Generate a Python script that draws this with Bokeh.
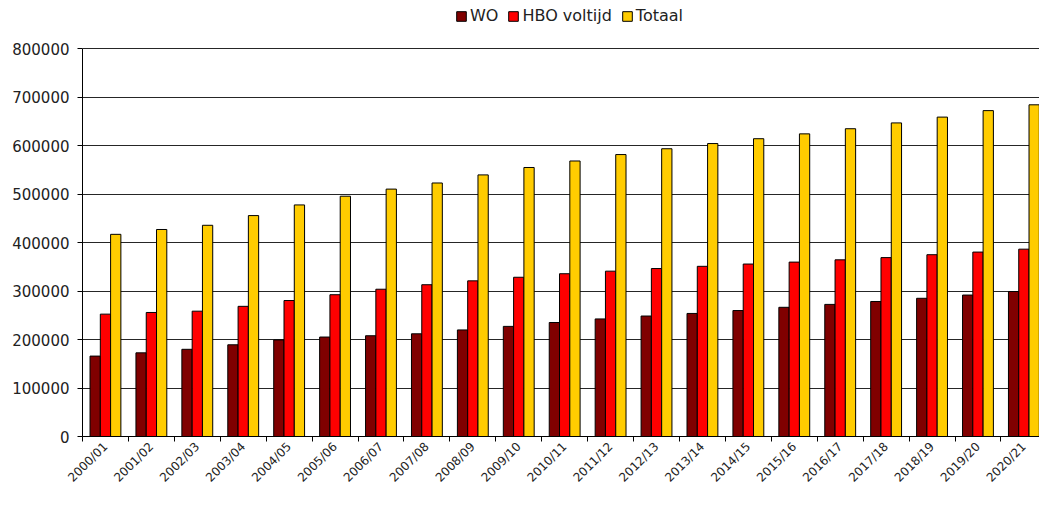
import math
from bokeh.plotting import figure
from bokeh.models import ColumnDataSource, Range1d, FixedTicker, Legend, LegendItem
from bokeh.transform import dodge
from bokeh.embed import file_html
from bokeh.resources import INLINE

categories = ["2000/01", "2001/02", "2002/03", "2003/04", "2004/05", "2005/06", "2006/07",
              "2007/08", "2008/09", "2009/10", "2010/11", "2011/12", "2012/13", "2013/14",
              "2014/15", "2015/16", "2016/17", "2017/18", "2018/19", "2019/20", "2020/21"]
wo = [166000, 172700, 180000, 189300, 199300, 205300, 208000,
      212000, 220000, 227300, 235300, 242700, 248700, 254000,
      260000, 266700, 272700, 278700, 285300, 292000, 299300]
hbo = [252600, 256000, 258700, 268700, 280700, 292700, 304000,
       313300, 321300, 328700, 336000, 341300, 346700, 351300,
       356000, 360000, 364700, 369300, 375300, 380700, 386700]
totaal = [417300, 427300, 436000, 456000, 478000, 496000, 510700,
          523300, 540000, 555300, 568700, 582000, 594000, 604700,
          614700, 624700, 635300, 647300, 659300, 672700, 684700]
y_ticks = [0, 100000, 200000, 300000, 400000, 500000, 600000, 700000, 800000]

FONT = "DejaVu Sans"
idx = list(range(len(categories)))
src = ColumnDataSource(dict(x=idx, wo=wo, hbo=hbo, totaal=totaal))

# frame reaches the top of the figure so the legend can sit above the 800000 line
p = figure(width=1039, height=492, output_backend="svg", toolbar_location=None,
           x_range=Range1d(-0.5, 20.34), y_range=Range1d(0, 900000),
           min_border_left=82, min_border_right=0, min_border_top=0, min_border_bottom=55)
p.outline_line_color = None
p.background_fill_color = "white"

bw = 0.224
r1 = p.vbar(x=dodge("x", -bw, range=p.x_range), top="wo", width=bw, source=src,
            fill_color="#800000", line_color="black", line_width=1)
r2 = p.vbar(x="x", top="hbo", width=bw, source=src,
            fill_color="#FF0000", line_color="black", line_width=1)
r3 = p.vbar(x=dodge("x", bw, range=p.x_range), top="totaal", width=bw, source=src,
            fill_color="#FFCC00", line_color="black", line_width=1)

# axes
p.xaxis.ticker = FixedTicker(ticks=idx, minor_ticks=[i - 0.5 for i in range(len(categories) + 1)])
p.xaxis.major_label_overrides = {i: c for i, c in zip(idx, categories)}
p.xaxis.major_label_orientation = math.pi / 4
p.xaxis.major_tick_line_color = None
p.xaxis.major_tick_out = 4
p.xaxis.major_tick_in = 0
p.xaxis.minor_tick_line_color = "black"
p.xaxis.minor_tick_out = 5
p.xaxis.minor_tick_in = 0
p.xaxis.axis_line_color = "black"
p.xaxis.major_label_text_font = FONT
p.xaxis.major_label_text_font_size = "12px"
p.xaxis.major_label_text_color = "#222222"
p.xaxis.major_label_standoff = 3

p.yaxis.ticker = FixedTicker(ticks=y_ticks)
p.yaxis.bounds = (0, 800000)
p.yaxis.formatter.use_scientific = False
p.yaxis.minor_tick_line_color = None
p.yaxis.major_tick_out = 5
p.yaxis.major_tick_in = 0
p.yaxis.major_tick_line_color = "black"
p.yaxis.axis_line_color = "black"
p.yaxis.major_label_text_font = FONT
p.yaxis.major_label_text_font_size = "15px"
p.yaxis.major_label_text_color = "#222222"
p.yaxis.major_label_standoff = 8

p.xgrid.grid_line_color = None
p.ygrid.grid_line_color = "black"
p.ygrid.grid_line_alpha = 0.85
p.ygrid.grid_line_width = 1

legend = Legend(items=[LegendItem(label="WO", renderers=[r1]),
                       LegendItem(label="HBO voltijd", renderers=[r2]),
                       LegendItem(label="Totaal", renderers=[r3])],
                orientation="horizontal", location=(373, 411),
                glyph_width=12, glyph_height=12, label_standoff=3, spacing=9,
                label_text_font=FONT, label_text_font_size="16px",
                label_text_color="#222222",
                border_line_color=None, background_fill_alpha=0,
                padding=0, margin=0)
p.add_layout(legend)

open("out.html", "w").write(file_html(p, INLINE))
